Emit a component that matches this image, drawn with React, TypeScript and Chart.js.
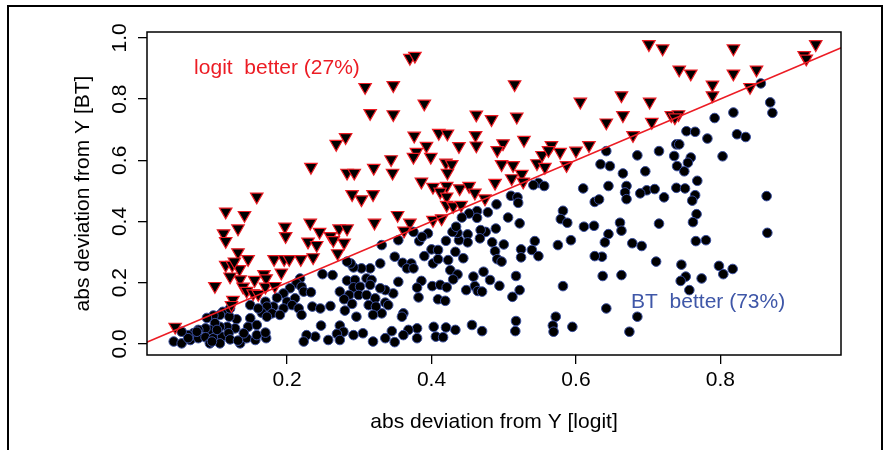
import React, { useEffect, useRef } from "react";
import { Chart, registerables } from "chart.js";

Chart.register(...registerables);

// ---------- data ----------
const X_TITLE = "abs deviation from Y [logit]";
const Y_TITLE = "abs deviation from Y [BT]";
const LOGIT_LABEL = "logit  better (27%)";
const BT_LABEL = "BT  better (73%)";
const LOGIT_LABEL_POS = [0.186, 0.9];
const BT_LABEL_POS = [0.783, 0.135];

const X_TICKS = [0.2, 0.4, 0.6, 0.8];
const X_TICK_LABELS = ["0.2", "0.4", "0.6", "0.8"];
const Y_TICKS = [0.0, 0.2, 0.4, 0.6, 0.8, 1.0];
const Y_TICK_LABELS = ["0.0", "0.2", "0.4", "0.6", "0.8", "1.0"];

const X_RANGE = [0.006, 0.967];
const Y_RANGE = [-0.036, 1.019];

// reference line y = x
const REF_X = [0, 1];
const REF_Y = [0, 1];

// logit better (triangles)
const LOGIT_X = [
  0.308, 0.315, 0.268, 0.281, 0.233, 0.283, 0.293, 0.320, 0.370, 0.377,
  0.347, 0.515, 0.390, 0.606, 0.663, 0.347, 0.462, 0.483, 0.518, 0.642,
  0.665, 0.376, 0.410, 0.422, 0.461, 0.393, 0.438, 0.462, 0.499, 0.491,
  0.528, 0.344, 0.379, 0.375, 0.399, 0.346, 0.420, 0.428, 0.422, 0.497,
  0.513, 0.546, 0.557, 0.553, 0.566, 0.562, 0.578, 0.600, 0.618, 0.587,
  0.386, 0.402, 0.421, 0.439, 0.452, 0.488, 0.511, 0.525, 0.527, 0.679,
  0.701, 0.720, 0.818, 0.932, 0.916, 0.919, 0.743, 0.759, 0.818, 0.850,
  0.789, 0.789, 0.841, 0.702, 0.705, 0.732, 0.742, 0.737, 0.412, 0.421,
  0.460, 0.474, 0.421, 0.430, 0.441, 0.353, 0.370, 0.362, 0.402, 0.414,
  0.158, 0.115, 0.141, 0.132, 0.112, 0.115, 0.132, 0.146, 0.115, 0.124,
  0.134, 0.127, 0.135, 0.121, 0.100, 0.139, 0.155, 0.168, 0.171, 0.144,
  0.153, 0.160, 0.170, 0.183, 0.192, 0.182, 0.196, 0.203, 0.219, 0.236,
  0.197, 0.198, 0.232, 0.245, 0.229, 0.241, 0.260, 0.264, 0.272, 0.283,
  0.279, 0.270, 0.290, 0.303, 0.319, 0.321, 0.045, 0.125, 0.123,
];
const LOGIT_Y = [
  0.839, 0.754, 0.653, 0.675, 0.578, 0.559, 0.559, 0.575, 0.934, 0.941,
  0.845, 0.848, 0.785, 0.791, 0.812, 0.750, 0.749, 0.734, 0.742, 0.723,
  0.747, 0.680, 0.689, 0.687, 0.682, 0.647, 0.646, 0.648, 0.655, 0.633,
  0.666, 0.603, 0.627, 0.611, 0.611, 0.559, 0.592, 0.587, 0.559, 0.587,
  0.584, 0.590, 0.578, 0.617, 0.649, 0.633, 0.627, 0.631, 0.649, 0.584,
  0.530, 0.513, 0.516, 0.508, 0.516, 0.526, 0.541, 0.555, 0.530, 0.682,
  0.979, 0.965, 0.965, 0.979, 0.943, 0.932, 0.896, 0.883, 0.883, 0.896,
  0.847, 0.812, 0.839, 0.791, 0.725, 0.747, 0.750, 0.740, 0.497, 0.481,
  0.494, 0.475, 0.454, 0.450, 0.454, 0.421, 0.396, 0.370, 0.405, 0.410,
  0.481, 0.432, 0.421, 0.377, 0.361, 0.336, 0.299, 0.277, 0.258, 0.258,
  0.244, 0.269, 0.211, 0.220, 0.189, 0.187, 0.209, 0.228, 0.214, 0.173,
  0.165, 0.163, 0.187, 0.189, 0.233, 0.277, 0.277, 0.277, 0.277, 0.283,
  0.383, 0.352, 0.396, 0.366, 0.334, 0.323, 0.352, 0.339, 0.377, 0.377,
  0.331, 0.296, 0.489, 0.472, 0.489, 0.396, 0.056, 0.144, 0.127,
];

// BT better (circles)
const BT_X = [
  0.642, 0.634, 0.647, 0.665, 0.548, 0.556, 0.541, 0.610, 0.645, 0.670,
  0.856, 0.869, 0.872, 0.818, 0.792, 0.753, 0.765, 0.823, 0.835, 0.782,
  0.739, 0.743, 0.715, 0.685, 0.736, 0.759, 0.803, 0.755, 0.740, 0.750,
  0.696, 0.768, 0.698, 0.709, 0.739, 0.751, 0.668, 0.670, 0.689, 0.722,
  0.765, 0.761, 0.864, 0.767, 0.762, 0.715, 0.661, 0.663, 0.865, 0.678,
  0.691, 0.766, 0.780, 0.711, 0.746, 0.663, 0.798, 0.804, 0.817, 0.752,
  0.745, 0.774, 0.757, 0.685, 0.674,
  0.626, 0.632, 0.510, 0.519, 0.520, 0.490, 0.478, 0.463, 0.463, 0.452,
  0.442, 0.506, 0.522, 0.582, 0.579, 0.588, 0.611, 0.625, 0.645, 0.640,
  0.593, 0.575, 0.543, 0.539, 0.548, 0.524, 0.524, 0.500, 0.484, 0.488,
  0.491, 0.497, 0.489, 0.475, 0.468, 0.467, 0.450, 0.450, 0.438, 0.436,
  0.429, 0.434, 0.420, 0.395, 0.383, 0.387, 0.375, 0.354, 0.331, 0.400,
  0.409, 0.390, 0.402, 0.409, 0.423, 0.433, 0.444, 0.349, 0.360, 0.372,
  0.366, 0.375, 0.329, 0.426, 0.436, 0.430, 0.458, 0.472, 0.481, 0.460,
  0.464, 0.470, 0.448, 0.494, 0.517, 0.522, 0.512, 0.582, 0.354, 0.386,
  0.380, 0.401, 0.412, 0.421, 0.382, 0.409, 0.419, 0.347, 0.336, 0.329,
  0.336, 0.340, 0.331, 0.361, 0.359, 0.636, 0.626, 0.637, 0.642, 0.572,
  0.568, 0.569, 0.595, 0.517, 0.516, 0.470, 0.456, 0.433, 0.420, 0.403,
  0.406, 0.416, 0.380, 0.380, 0.368, 0.361, 0.345, 0.336, 0.349,
  0.315, 0.303, 0.292, 0.288, 0.283, 0.249, 0.263, 0.283, 0.294, 0.310,
  0.317, 0.292, 0.301, 0.315, 0.273, 0.286, 0.299, 0.310, 0.322, 0.279,
  0.290, 0.313, 0.323, 0.260, 0.280, 0.296, 0.319, 0.273, 0.278, 0.292,
  0.305, 0.319, 0.269, 0.273, 0.257, 0.247, 0.239, 0.227, 0.223, 0.218,
  0.213, 0.220, 0.223, 0.233, 0.204, 0.195, 0.186, 0.200, 0.211, 0.207,
  0.181, 0.195, 0.216, 0.220, 0.235, 0.246, 0.170, 0.172, 0.179, 0.165,
  0.149, 0.160, 0.172, 0.190, 0.149, 0.146, 0.130, 0.128, 0.111, 0.107,
  0.098, 0.120, 0.117, 0.107, 0.100, 0.093, 0.087, 0.077, 0.070, 0.063,
  0.054, 0.043, 0.054, 0.066, 0.077, 0.087, 0.098, 0.110, 0.119, 0.121,
  0.093, 0.107, 0.135, 0.144, 0.156, 0.158, 0.171, 0.170, 0.158, 0.140,
  0.132, 0.089, 0.063, 0.075, 0.096, 0.103, 0.121,
];
const BT_Y = [
  0.630, 0.587, 0.581, 0.557, 0.526, 0.516, 0.519, 0.508, 0.516, 0.516,
  0.851, 0.789, 0.755, 0.756, 0.738, 0.695, 0.693, 0.685, 0.676, 0.671,
  0.652, 0.652, 0.630, 0.616, 0.614, 0.609, 0.613, 0.592, 0.581, 0.564,
  0.564, 0.533, 0.502, 0.506, 0.510, 0.508, 0.495, 0.473, 0.492, 0.479,
  0.486, 0.468, 0.483, 0.424, 0.398, 0.393, 0.396, 0.370, 0.363, 0.329,
  0.320, 0.336, 0.339, 0.269, 0.259, 0.225, 0.255, 0.228, 0.245, 0.220,
  0.206, 0.214, 0.176, 0.089, 0.040,
  0.464, 0.472, 0.484, 0.479, 0.461, 0.456, 0.430, 0.434, 0.412, 0.426,
  0.413, 0.413, 0.394, 0.435, 0.408, 0.396, 0.383, 0.386, 0.359, 0.332,
  0.339, 0.323, 0.336, 0.307, 0.287, 0.309, 0.283, 0.325, 0.332, 0.303,
  0.277, 0.269, 0.377, 0.366, 0.372, 0.345, 0.358, 0.332, 0.339, 0.363,
  0.366, 0.383, 0.337, 0.361, 0.336, 0.350, 0.366, 0.339, 0.323, 0.309,
  0.307, 0.287, 0.263, 0.277, 0.274, 0.301, 0.280, 0.285, 0.265, 0.263,
  0.247, 0.247, 0.263, 0.241, 0.227, 0.211, 0.220, 0.236, 0.209, 0.189,
  0.173, 0.171, 0.176, 0.190, 0.222, 0.176, 0.154, 0.189, 0.203, 0.206,
  0.184, 0.189, 0.193, 0.185, 0.152, 0.146, 0.141, 0.165, 0.176, 0.182,
  0.135, 0.127, 0.100, 0.100, 0.089, 0.285, 0.287, 0.222, 0.116, 0.089,
  0.060, 0.040, 0.056, 0.075, 0.042, 0.042, 0.062, 0.046, 0.054, 0.056,
  0.024, 0.022, 0.051, 0.019, 0.046, 0.029, 0.042, 0.019, 0.006,
  0.247, 0.247, 0.250, 0.263, 0.269, 0.228, 0.225, 0.207, 0.209, 0.214,
  0.209, 0.185, 0.187, 0.193, 0.171, 0.160, 0.160, 0.160, 0.149, 0.146,
  0.131, 0.127, 0.122, 0.124, 0.109, 0.089, 0.095, 0.060, 0.040, 0.029,
  0.035, 0.008, 0.033, 0.013, 0.013, 0.060, 0.024, 0.029, 0.008, 0.214,
  0.198, 0.187, 0.171, 0.169, 0.182, 0.165, 0.151, 0.138, 0.149, 0.127,
  0.122, 0.116, 0.116, 0.095, 0.122, 0.116, 0.138, 0.122, 0.100, 0.102,
  0.127, 0.116, 0.089, 0.095, 0.084, 0.056, 0.081, 0.051, 0.105, 0.095,
  0.093, 0.089, 0.056, 0.056, 0.068, 0.046, 0.051, 0.046, 0.035, 0.029,
  0.040, 0.008, 0.002, 0.013, 0.019, 0.022, 0.019, 0.024, 0.035, 0.015,
  0.002, 0.002, 0.002, 0.019, 0.013, 0.029, 0.019, 0.037, 0.062, 0.035,
  0.011, 0.085, 0.019, 0.040, 0.008, 0.046, 0.116,
];

// ---------- styling ----------
const FONT = '21px "Liberation Sans", Arial, Helvetica, sans-serif';
const RED = "#ec1c24";
const BLUE_TEXT = "#3f57a8";
const CIRCLE_EDGE = "#3a4f9f";

const toPoints = (xs: number[], ys: number[]) => xs.map((x, i) => ({ x, y: ys[i] }));

const rPlotPlugin = {
  id: "rPlot",
  afterDraw(chart: any) {
    const { ctx, chartArea: a, scales } = chart;
    const xs = scales.x;
    const ys = scales.y;
    ctx.save();
    // plot box
    ctx.strokeStyle = "#000";
    ctx.lineWidth = 1.5;
    ctx.strokeRect(a.left, a.top, a.right - a.left, a.bottom - a.top);
    // outer figure frame
    ctx.lineWidth = 2;
    ctx.beginPath();
    ctx.moveTo(8, 452);
    ctx.lineTo(8, 6);
    ctx.lineTo(882, 6);
    ctx.lineTo(882, 452);
    ctx.stroke();

    ctx.fillStyle = "#000";
    ctx.font = FONT;
    // x tick labels
    ctx.textAlign = "center";
    ctx.textBaseline = "alphabetic";
    X_TICKS.forEach((v, i) => {
      ctx.fillText(X_TICK_LABELS[i], xs.getPixelForValue(v), a.bottom + 31);
    });
    // y tick labels (rotated, parallel to axis)
    Y_TICKS.forEach((v, i) => {
      ctx.save();
      ctx.translate(a.left - 21, ys.getPixelForValue(v));
      ctx.rotate(-Math.PI / 2);
      ctx.fillText(Y_TICK_LABELS[i], 0, 0);
      ctx.restore();
    });
    // axis titles
    ctx.textBaseline = "middle";
    ctx.fillText(X_TITLE, (a.left + a.right) / 2, 422);
    ctx.save();
    ctx.translate(89, (a.top + a.bottom) / 2);
    ctx.rotate(-Math.PI / 2);
    ctx.textBaseline = "alphabetic";
    ctx.fillText(Y_TITLE, 0, 0);
    ctx.restore();

    // annotations
    ctx.textBaseline = "middle";
    ctx.fillStyle = RED;
    ctx.fillText(LOGIT_LABEL, xs.getPixelForValue(LOGIT_LABEL_POS[0]), ys.getPixelForValue(LOGIT_LABEL_POS[1]));
    ctx.fillStyle = BLUE_TEXT;
    ctx.fillText(BT_LABEL, xs.getPixelForValue(BT_LABEL_POS[0]), ys.getPixelForValue(BT_LABEL_POS[1]));
    ctx.restore();
  },
};

export default function App() {
  const canvasRef = useRef<HTMLCanvasElement | null>(null);

  useEffect(() => {
    const canvas = canvasRef.current;
    if (!canvas) return;
    const chart = new Chart(canvas, {
      type: "scatter",
      data: {
        datasets: [
          {
            label: "y = x",
            data: toPoints(REF_X, REF_Y),
            showLine: true,
            borderColor: RED,
            borderWidth: 1.5,
            pointRadius: 0,
            order: 0,
          },
          {
            label: "logit better",
            data: toPoints(LOGIT_X, LOGIT_Y),
            pointStyle: "triangle",
            rotation: 180,
            pointRadius: 7.2,
            backgroundColor: "#000",
            borderColor: RED,
            borderWidth: 1.2,
            order: 1,
          },
          {
            label: "BT better",
            data: toPoints(BT_X, BT_Y),
            pointStyle: "circle",
            pointRadius: 4.8,
            backgroundColor: "#000",
            borderColor: CIRCLE_EDGE,
            borderWidth: 1,
            order: 2,
          },
        ],
      },
      options: {
        animation: false,
        responsive: false,
        devicePixelRatio: 1,
        events: [],
        layout: { padding: { top: 32, right: 50, left: 0, bottom: 0 } },
        plugins: {
          legend: { display: false },
          tooltip: { enabled: false },
          title: { display: false },
        },
        scales: {
          x: {
            type: "linear",
            min: X_RANGE[0],
            max: X_RANGE[1],
            afterBuildTicks: (s: any) => {
              s.ticks = X_TICKS.map((v) => ({ value: v }));
            },
            afterFit: (s: any) => {
              s.height = 95;
            },
            ticks: { display: false },
            grid: {
              drawOnChartArea: false,
              drawTicks: true,
              tickLength: 9,
              color: "#000",
              lineWidth: 1.3,
            },
            border: { display: false },
          },
          y: {
            type: "linear",
            min: Y_RANGE[0],
            max: Y_RANGE[1],
            afterBuildTicks: (s: any) => {
              s.ticks = Y_TICKS.map((v) => ({ value: v }));
            },
            afterFit: (s: any) => {
              s.width = 147;
            },
            ticks: { display: false },
            grid: {
              drawOnChartArea: false,
              drawTicks: true,
              tickLength: 9,
              color: "#000",
              lineWidth: 1.3,
            },
            border: { display: false },
          },
        },
      },
      plugins: [rPlotPlugin],
    });
    return () => chart.destroy();
  }, []);

  return (
    <div style={{ position: "absolute", left: 0, top: 0, width: 891, height: 450, background: "#fff" }}>
      <canvas ref={canvasRef} width={891} height={450} style={{ display: "block" }} />
    </div>
  );
}
